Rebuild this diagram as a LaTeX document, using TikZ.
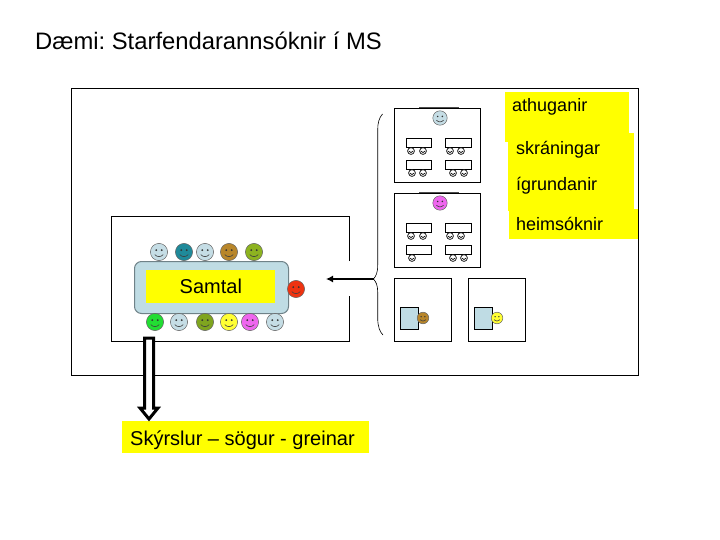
\documentclass[tikz,border=0pt]{standalone}
\usepackage{fontspec}
\usetikzlibrary{arrows.meta}
\setmainfont{Liberation Sans}
\frenchspacing
\definecolor{tablefill}{HTML}{BFDCE4}
\definecolor{tableedge}{HTML}{6F8288}
\definecolor{fc1}{HTML}{C5DDE5}
\definecolor{fteal}{HTML}{1F8A9A}
\definecolor{fochre}{HTML}{B8862A}
\definecolor{folive}{HTML}{8DB320}
\definecolor{fgreen}{HTML}{22DD33}
\definecolor{folivedk}{HTML}{7FA51F}
\definecolor{fyellow}{HTML}{FFFF33}
\definecolor{fmagenta}{HTML}{EE66EE}
\definecolor{fred}{HTML}{EE3311}
\definecolor{hilite}{HTML}{FFFF00}
\tikzset{
  px/.style={x=1pt,y=-1pt},
  frame/.style={draw=black,fill=white,line width=0.9pt},
  thinframe/.style={draw=black,fill=white,line width=0.8pt},
  hl/.style={fill=hilite,draw=none},
  lbl/.style={inner sep=0pt,anchor=base west,text=black},
  desk/.style={draw=black,fill=white,line width=0.7pt},
  sidedesk/.style={draw=black,fill=tablefill,line width=0.8pt},
}
% big face: x, y, r, colour
\newcommand{\myface}[4]{%
  \fill[#4] (#1,#2) circle[radius=#3];
  \draw[black!60,line width=0.5pt] (#1,#2) circle[radius=#3];
  \fill[black!80] ({#1-0.32*#3},{#2-0.22*#3}) circle[radius=0.12*#3] ({#1+0.32*#3},{#2-0.22*#3}) circle[radius=0.12*#3];
  \draw[black!75,line width=0.6pt] ({#1-0.5*#3},{#2+0.3*#3}) .. controls ({#1-0.2*#3},{#2+0.62*#3}) and ({#1+0.2*#3},{#2+0.62*#3}) .. ({#1+0.5*#3},{#2+0.3*#3});
}
% small student face
\newcommand{\myst}[2]{%
  \draw[black,line width=0.7pt,fill=white] (#1,#2) circle[radius=3.4];
  \draw[black,line width=0.7pt] ({#1-2},{#2+0.2}) .. controls ({#1-1},{#2+2}) and ({#1+1},{#2+2}) .. ({#1+2},{#2+0.2});
}
\newcommand{\myroom}[2]{%
  \node[thinframe,minimum width=86pt,minimum height=74pt,inner sep=0pt,anchor=north west] (#2) at (394,#1) {};
  \draw[black!70,line width=1pt] (419,#1) -- (459,#1);
  \draw[desk] (406,{#1+30}) rectangle (431,{#1+39});
  \draw[desk] (445,{#1+30}) rectangle (471,{#1+39});
  \draw[desk] (406,{#1+52}) rectangle (431,{#1+61});
  \draw[desk] (445,{#1+52}) rectangle (471,{#1+61});
  \myst{411}{#1+43}\myst{423}{#1+43}\myst{450}{#1+43}\myst{461}{#1+43}
  \myst{453}{#1+65}\myst{464}{#1+65}
}
\begin{document}
\begin{tikzpicture}[px]
\useasboundingbox (0,0) rectangle (720,540);
\fill[white] (0,0) rectangle (720,540);
\node[lbl,font=\fontsize{23.8}{28}\selectfont] (title) at (35,50) {Dæmi: Starfendarannsóknir í MS};
\node[frame,minimum width=567pt,minimum height=287pt,inner sep=0pt,anchor=north west] (outer) at (71,88) {};
% yellow labels
\fill[hilite] (505,92) rectangle (629,142);
\fill[hilite] (508,133) rectangle (634,211);
\fill[hilite] (509,209) rectangle (638,239);
\node[lbl,font=\fontsize{18}{22}\selectfont] (a) at (512,112) {athuganir};
\node[lbl,font=\fontsize{18}{22}\selectfont] (b) at (516,155) {skráningar};
\node[lbl,font=\fontsize{18}{22}\selectfont] (c) at (516,191) {ígrundanir};
\node[lbl,font=\fontsize{18}{22}\selectfont] (d) at (516,230) {heimsóknir};
% conversation room, with the gap in its right wall
\draw[black,line width=0.8pt] (349.5,261) -- (349.5,216) -- (111,216) -- (111,341.5) -- (349.5,341.5) -- (349.5,296);
\node[draw=tableedge,fill=tablefill,rounded corners=7pt,line width=1pt,minimum width=154pt,minimum height=52pt,inner sep=0pt,anchor=north west] (table) at (134,261) {};
\node[hl,minimum width=129pt,minimum height=33pt,inner sep=0pt,anchor=north west] (samtalbox) at (146,270) {};
\node[lbl,font=\fontsize{20}{24}\selectfont] (samtal) at (179.5,293.5) {Samtal};
\myface{159}{252}{8.6}{fc1}\myface{184}{252}{8.6}{fteal}\myface{205}{252}{8.6}{fc1}\myface{229}{252}{8.6}{fochre}\myface{254}{252}{8.6}{folive}
\myface{155}{322}{8.6}{fgreen}\myface{179}{322}{8.6}{fc1}\myface{205}{322}{8.6}{folivedk}\myface{229}{322}{8.6}{fyellow}\myface{250}{322}{8.6}{fmagenta}\myface{275}{322}{8.6}{fc1}
\myface{296}{289}{8.6}{fred}
% classrooms
\myroom{108}{roomA}
\myst{412}{173}\myst{423}{173}
\myface{440}{118}{7.2}{fc1}
\myroom{193}{roomB}
\myst{412}{258}
\myface{440}{203}{7.2}{fmagenta}
% one-on-one rooms
\node[thinframe,minimum width=57pt,minimum height=63pt,inner sep=0pt,anchor=north west] (roomC) at (394,278) {};
\node[thinframe,minimum width=57pt,minimum height=63pt,inner sep=0pt,anchor=north west] (roomD) at (468,278) {};
\draw[sidedesk] (400,307) rectangle (418,329);
\draw[sidedesk] (474,307) rectangle (492,329);
\myface{423}{318}{5.8}{fochre}
\myface{497}{318}{5.8}{fyellow}
% brace
\coordinate (bt) at (382.5,114);
\coordinate (bm) at (373.5,279);
\coordinate (bb) at (383,335);
\draw[black,line width=0.6pt] (bt) .. controls (379,118) and (377.7,123) .. (377.7,130) -- (377.7,265) .. controls (377.7,273) and (376,276) .. (bm) .. controls (376,282) and (377.7,285) .. (377.7,292) -- (377.7,318) .. controls (377.7,327) and (380,332) .. (bb);
% arrow
\coordinate (at) at (bm);
\coordinate (ah) at (326,279);
\draw[black,line width=1.3pt,-{Latex[length=7pt,width=7pt]}] (at) -- (ah);
% report label and block arrow
\node[hl,minimum width=247pt,minimum height=32pt,inner sep=0pt,anchor=north west] (reportbox) at (122,421) {};
\node[lbl,font=\fontsize{20}{24}\selectfont] (report) at (130,445) {Skýrslur – sögur - greinar};
\draw[black,fill=white,line width=3pt,miter limit=10] (144.5,338) -- (153.5,338) -- (153.5,408) -- (158,408) -- (149,419) -- (140,408) -- (144.5,408) -- cycle;
\end{tikzpicture}
\end{document}
